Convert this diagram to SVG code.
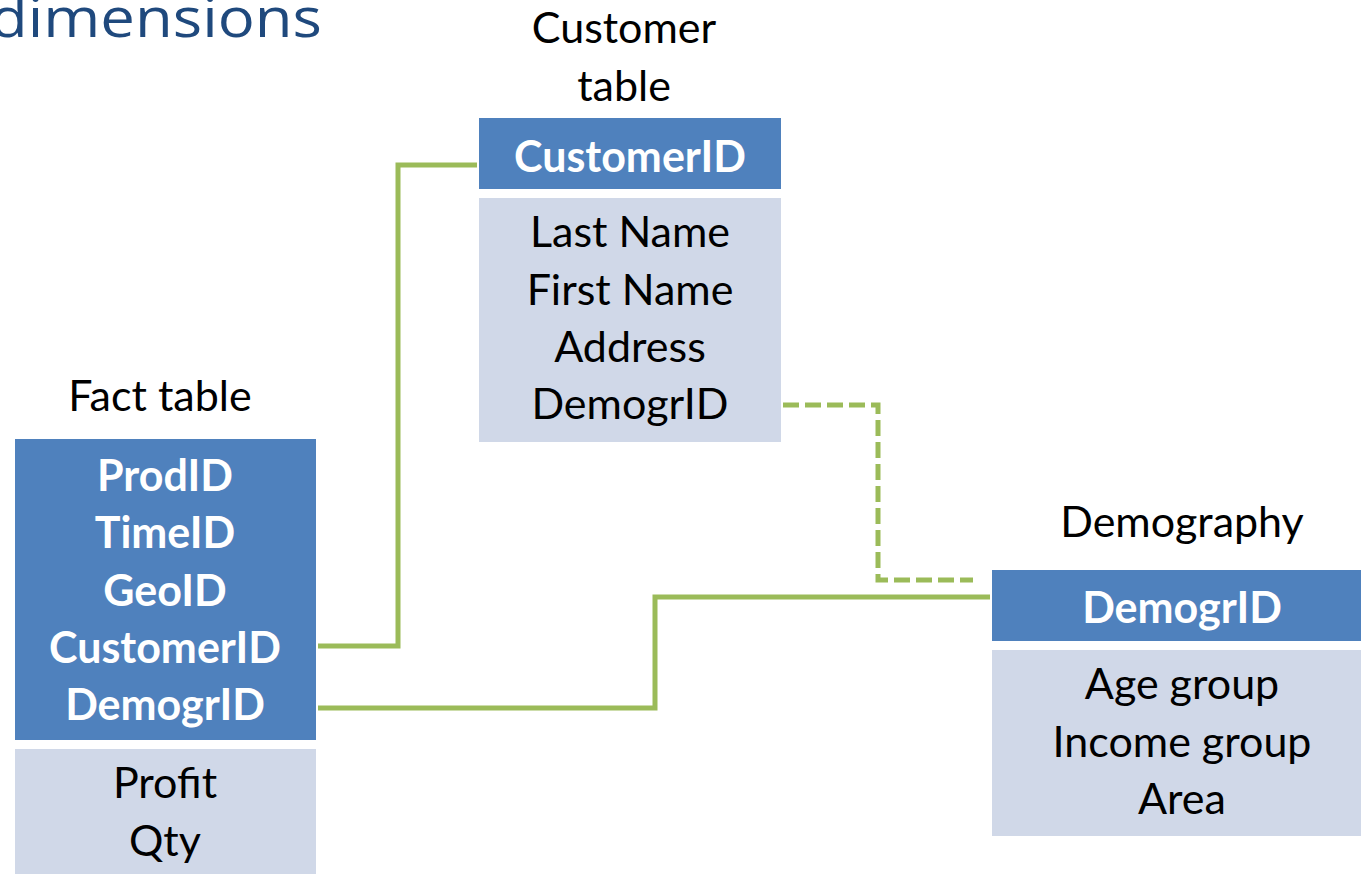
<svg xmlns="http://www.w3.org/2000/svg" width="1361" height="874" viewBox="0 0 1361 874">
<style>
.t{font-family:Lato,"Liberation Sans",sans-serif;font-size:43px;text-anchor:middle;fill:#000}
.h{font-family:Lato,"Liberation Sans",sans-serif;font-size:43px;font-weight:bold;text-anchor:middle;fill:#fff}
.hd{fill:#4F81BD}
.bd{fill:#D0D8E8}
.c{fill:none;stroke:#9BBB59;stroke-width:5}
.dash{stroke-dasharray:16 6}
.title{font-family:"Open Sans","Liberation Sans",sans-serif;font-size:54px;fill:#1F497D}
</style>
<text class="title" x="-10" y="37" textLength="332" lengthAdjust="spacingAndGlyphs">dimensions</text>
<g id="connectors">
<polyline class="c" points="318,646 398,646 398,165 477,165"/>
<polyline class="c" points="318,708 655,708 655,597 990,597"/>
<polyline class="c dash" points="783,405 878,405 878,580 973,580"/>
</g>
<g id="customer">
<text class="t" x="624" y="43">Customer</text>
<text class="t" x="624" y="101">table</text>
<rect class="hd" x="479" y="118" width="302" height="71"/>
<text class="h" x="630" y="172">CustomerID</text>
<rect class="bd" x="479" y="198" width="302" height="244"/>
<text class="t" x="630" y="247">Last Name</text>
<text class="t" x="630" y="305">First Name</text>
<text class="t" x="630" y="362">Address</text>
<text class="t" x="630" y="419">DemogrID</text>
</g>
<g id="fact">
<text class="t" x="160" y="411">Fact table</text>
<rect class="hd" x="15" y="439" width="301" height="301"/>
<text class="h" x="165" y="491">ProdID</text>
<text class="h" x="165" y="548">TimeID</text>
<text class="h" x="165" y="606">GeoID</text>
<text class="h" x="165" y="663">CustomerID</text>
<text class="h" x="165" y="720">DemogrID</text>
<rect class="bd" x="15" y="749" width="301" height="130"/>
<text class="t" x="165" y="798">Profit</text>
<text class="t" x="165" y="856">Qty</text>
</g>
<g id="demography">
<text class="t" x="1182" y="537">Demography</text>
<rect class="hd" x="992" y="570" width="375" height="71"/>
<text class="h" x="1182" y="623">DemogrID</text>
<rect class="bd" x="992" y="650" width="375" height="186"/>
<text class="t" x="1182" y="699">Age group</text>
<text class="t" x="1182" y="757">Income group</text>
<text class="t" x="1182" y="814">Area</text>
</g>
</svg>
